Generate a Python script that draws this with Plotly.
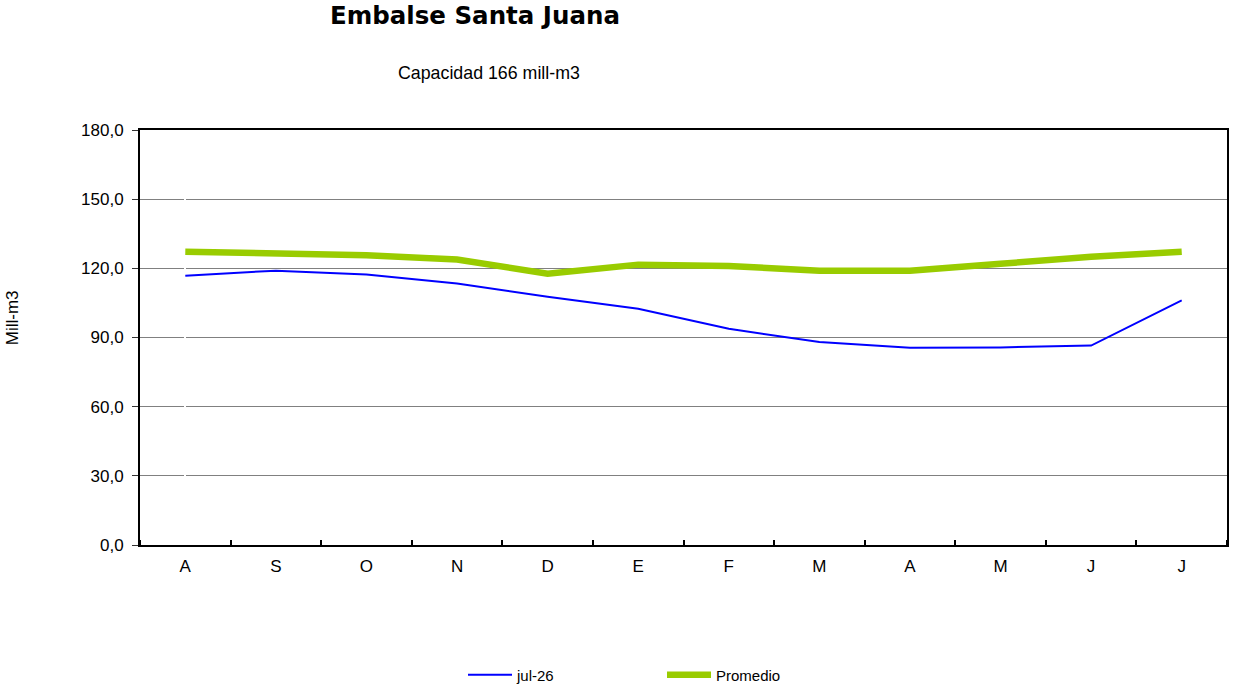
import plotly.graph_objects as go

months = ["A", "S", "O", "N", "D", "E", "F", "M", "A", "M", "J", "J"]
actual = [116.8, 119.0, 117.3, 113.4, 107.7, 102.5, 93.8, 88.0, 85.5, 85.7, 86.5, 106.1]
promedio = [127.2, 126.6, 125.7, 123.8, 117.7, 121.6, 121.0, 119.0, 119.0, 122.0, 125.0, 127.2]
series_names = ["jul-26", "Promedio"]
y_ticks = [0, 30, 60, 90, 120, 150, 180]

x_idx = list(range(len(months)))

W, H = 1233, 688
L, T, R, B = 140, 130, 4, 143
PW, PH = W - L - R, H - T - B

fig = go.Figure()
fig.add_trace(go.Scatter(x=x_idx, y=actual, mode="lines", name=series_names[0],
                         line=dict(color="#0000FF", width=2)))
fig.add_trace(go.Scatter(x=x_idx, y=promedio, mode="lines", name=series_names[1],
                         line=dict(color="#99CC00", width=6.5)))

font = "Liberation Sans, Arial, sans-serif"
fig.update_layout(
    width=W, height=H,
    margin=dict(l=L, r=R, t=T, b=B),
    paper_bgcolor="white", plot_bgcolor="white",
    separators=",.",
    font=dict(family=font, size=16, color="black"),
    showlegend=True,
    legend=dict(orientation="h", xref="container", yref="container",
                x=463 / W, y=13 / H, xanchor="left", yanchor="middle",
                entrywidth=140, entrywidthmode="pixels", itemwidth=44,
                font=dict(size=15), tracegroupgap=0,
                bgcolor="rgba(0,0,0,0)"),
    annotations=[
        dict(text="<b>Embalse Santa Juana</b>", xref="paper", yref="paper",
             x=(476 - L) / PW, y=1 + (T - 15) / PH, showarrow=False,
             xanchor="center", yanchor="middle",
             font=dict(family="DejaVu Sans, Verdana, sans-serif", size=24.5, color="black")),
        dict(text="Capacidad 166 mill-m3", xref="paper", yref="paper",
             x=(490 - L) / PW, y=1 + (T - 73) / PH, showarrow=False,
             xanchor="center", yanchor="middle", font=dict(size=17.8)),
        dict(text="Mill-m3", xref="paper", yref="paper",
             x=(12 - L) / PW, y=1 - (318 - T) / PH, showarrow=False,
             xanchor="center", yanchor="middle", textangle=-90, font=dict(size=17)),
    ],
)
fig.update_xaxes(
    tickmode="array", tickvals=x_idx, ticktext=months,
    range=[-0.5, 11.5], showgrid=False,
    showline=True, linecolor="black", linewidth=2, mirror=True,
    ticks="", tickfont=dict(size=17), ticklabelstandoff=5,
)
fig.update_xaxes(minor=dict(tickmode="array", tickvals=[i + 0.5 for i in range(-1, 12)],
                            ticks="inside", ticklen=5, tickwidth=2, tickcolor="black"))
fig.update_yaxes(
    range=[0, 180], tickmode="array", tickvals=y_ticks, tickformat=".1f",
    showgrid=True, gridcolor="#808080", gridwidth=1,
    showline=True, linecolor="black", linewidth=2, mirror=True,
    ticks="outside", ticklen=6, tickwidth=1, tickcolor="#333333", tickfont=dict(size=17),
    ticklabelstandoff=5,
    zeroline=False,
)

fig.write_html("out.html", config={"displayModeBar": False},
               post_script="document.body.style.margin='0';document.body.style.padding='0';")
